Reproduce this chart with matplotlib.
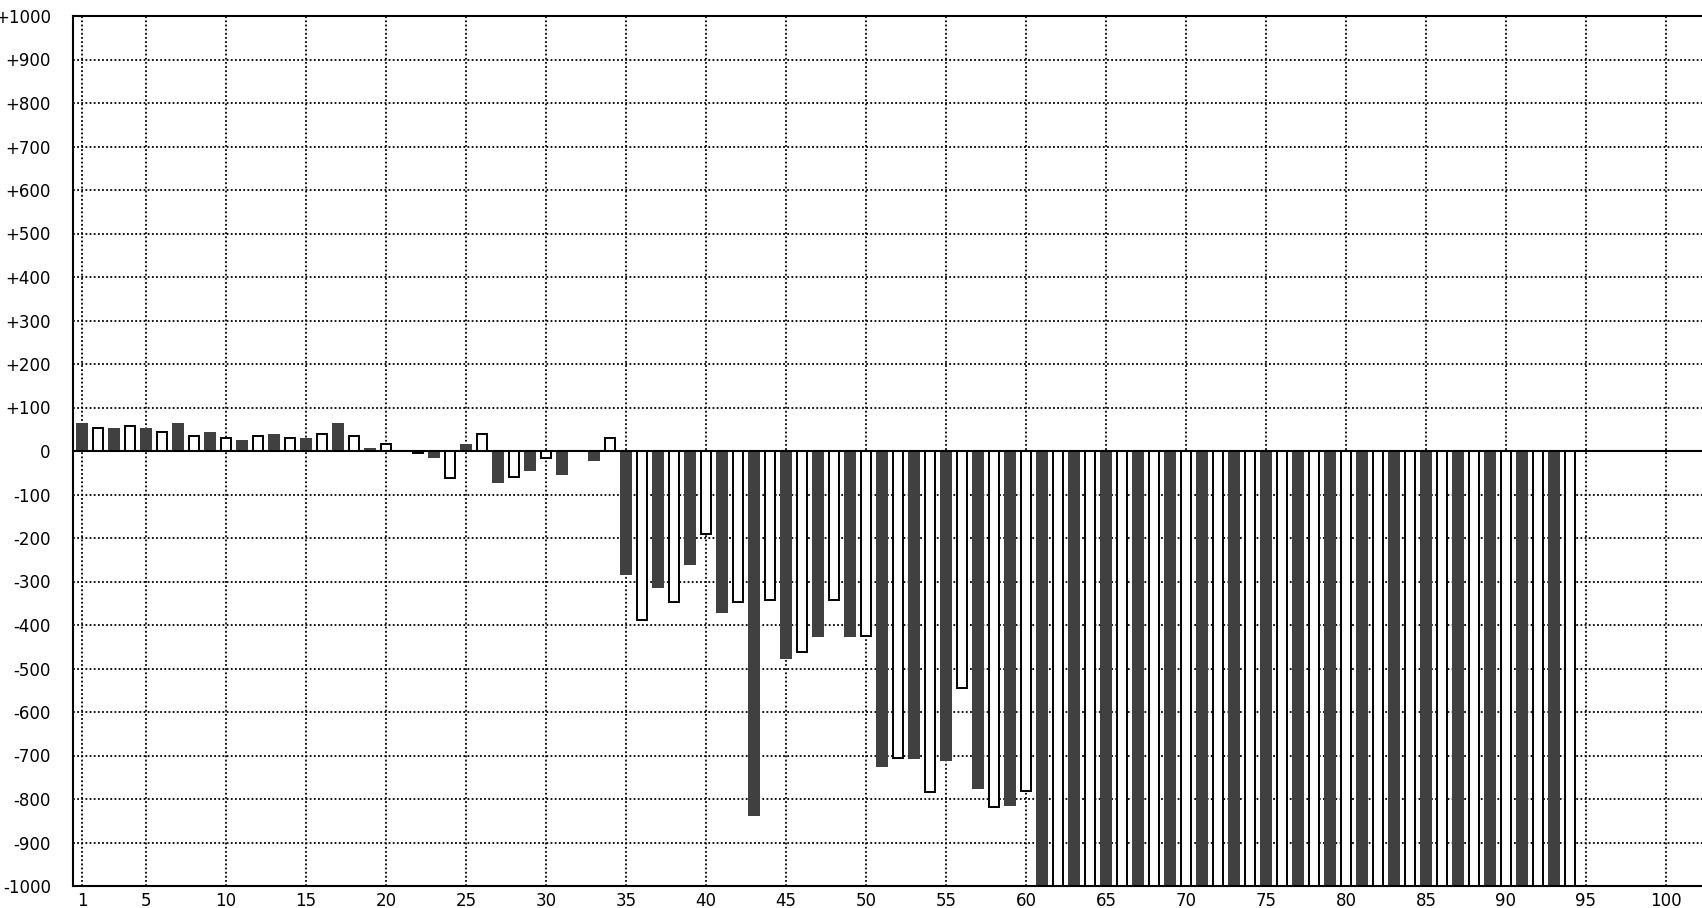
import matplotlib
matplotlib.use('Agg')
import matplotlib.pyplot as plt

# one bar per position; odd positions are dark, even positions are white
positions = list(range(1, 95))
values = [64, 53, 54, 58, 54, 44, 64, 34, 44, 29,
          25, 34, 40, 29, 30, 39, 64, 34, 6, 15,
          0, -5, -16, -63, 17, 39, -74, -59, -46, -16,
          -56, 0, -22, 29, -284, -388, -316, -347, -261, -190,
          -372, -347, -838, -342, -478, -462, -427, -342, -427, -425,
          -727, -706, -708, -785, -713, -545, -778, -818, -815, -781] + [-1000] * 34

x_ticks = [1, 5, 10, 15, 20, 25, 30, 35, 40, 45, 50, 55, 60, 65, 70, 75, 80, 85, 90, 95, 100]
y_ticks = list(range(-1000, 1001, 100))
y_labels = [(f"+{v}" if v > 0 else str(v)) for v in y_ticks]

dark_x = [p for p in positions if p % 2 == 1]
dark_v = [v for p, v in zip(positions, values) if p % 2 == 1]
white_x = [p for p in positions if p % 2 == 0]
white_v = [v for p, v in zip(positions, values) if p % 2 == 0]

W, H = 1702, 908
fig = plt.figure(figsize=(W / 100, H / 100), dpi=100)
ax = fig.add_axes([73 / W, 22 / H, 1633 / W, 870 / H])

ax.bar(dark_x, dark_v, width=0.75, color='#404040', linewidth=0, zorder=2)
ax.bar(white_x, white_v, width=0.68, color='white', edgecolor='black', linewidth=1.4, zorder=2)
ax.axhline(0, color='black', linewidth=1.5, zorder=3)

ax.set_xlim(0.4375, 102.5)
ax.set_ylim(-1000, 1000)
ax.set_xticks(x_ticks)
ax.set_xticklabels([str(t) for t in x_ticks])
ax.set_yticks(y_ticks)
ax.set_yticklabels(y_labels)
ax.tick_params(axis='both', length=0, labelsize=12, colors='black')
ax.tick_params(axis='y', pad=16)
ax.tick_params(axis='x', pad=4)

ax.set_axisbelow(True)
ax.grid(True, color='black', linestyle=(0, (1, 1.3)), linewidth=1.3)

for s in ['left', 'top', 'bottom']:
    ax.spines[s].set_linewidth(1.5)
    ax.spines[s].set_color('black')
ax.spines['right'].set_visible(False)

fig.savefig('out.png', dpi=100)
